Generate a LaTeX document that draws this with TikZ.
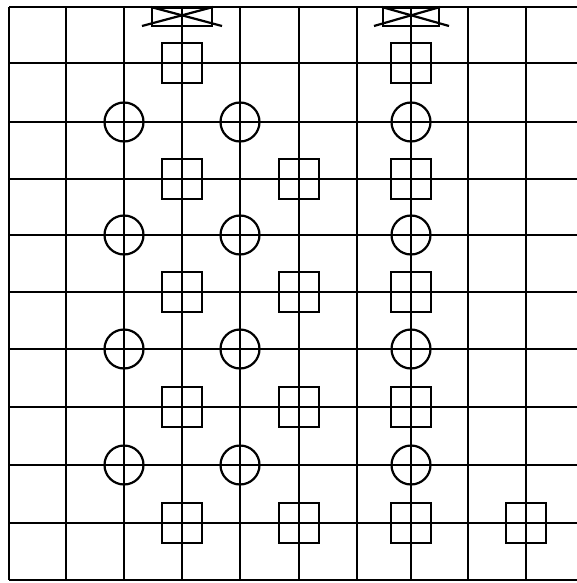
\documentclass[tikz,border=0pt]{standalone}
\begin{document}
\begin{tikzpicture}[x=1pt,y=-1pt,line width=2.2pt,
  gridline/.style={draw=black,line width=2.2pt},
  sq/.style={draw=black,rectangle,minimum size=40pt,inner sep=0pt,line width=2pt},
  cir/.style={draw=black,circle,minimum size=39pt,inner sep=0pt,line width=2.2pt},
  bowbox/.style={draw=black,rectangle,inner sep=0pt,minimum height=18pt,anchor=north,line width=2.2pt}]
\useasboundingbox (0,0) rectangle (577,583);
% grid
\foreach \x in {9,66,124,182,240,299,357,411,468,526}
  \draw[gridline] (\x,7) -- (\x,580);
\foreach \y in {7,63,122,179,235,292,349,407,465,523,580}
  \draw[gridline] (9,\y) -- (577,\y);
% bowtie symbols at the top
\node[bowbox,minimum width=60pt] (bt1) at (182,7) {};
\coordinate (bt1l) at (142,26);
\coordinate (bt1r) at (222,26);
\draw[line width=2.2pt] (bt1.north west) -- (bt1r);
\draw[line width=2.2pt] (bt1.north east) -- (bt1l);
\node[bowbox,minimum width=56pt] (bt2) at (411,7) {};
\coordinate (bt2l) at (374,26);
\coordinate (bt2r) at (449,26);
\draw[line width=2.2pt] (bt2.north west) -- (bt2r);
\draw[line width=2.2pt] (bt2.north east) -- (bt2l);
% squares
\node[sq] (s13) at (182,63) {};
\node[sq] (s17) at (411,63) {};
\foreach \r/\y in {3/179,5/292,7/407,9/523}{
  \node[sq] (s\r3) at (182,\y) {};
  \node[sq] (s\r5) at (299,\y) {};
  \node[sq] (s\r7) at (411,\y) {};
}
\node[sq] (s99) at (526,523) {};
% circles
\foreach \r/\y in {2/122,4/235,6/349,8/465}{
  \node[cir] (c\r2) at (124,\y) {};
  \node[cir] (c\r4) at (240,\y) {};
  \node[cir] (c\r7) at (411,\y) {};
}
\end{tikzpicture}
\end{document}
